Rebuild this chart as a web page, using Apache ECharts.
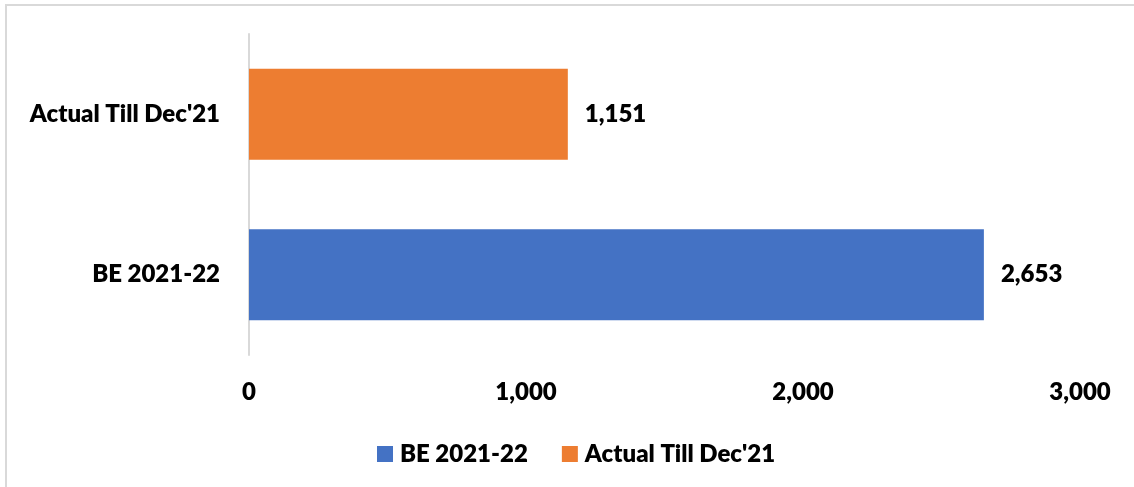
<!DOCTYPE html>
<html>
<head>
<meta charset="utf-8">
<script src="https://cdn.jsdelivr.net/npm/echarts@6/dist/echarts.min.js"></script>
<style>
html,body{margin:0;padding:0;background:#fff;}
#frame{position:absolute;left:5px;top:4px;width:1129px;height:483px;border-top:2px solid #d9d9d9;border-left:2px solid #d9d9d9;box-sizing:border-box;}
#chart{position:absolute;left:0;top:0;width:1134px;height:487px;}
</style>
</head>
<body>
<div id="frame"></div>
<div id="chart"></div>
<script>
var categories = ["BE 2021-22", "Actual Till Dec'21"];
var seriesNames = ["BE 2021-22", "Actual Till Dec'21"];
var beValues = [2653, null];
var actualValues = [null, 1151];
var xTicks = [0, 1000, 2000, 3000];

var font = "Lato, 'Open Sans', sans-serif";
var fs = 24;
var fw = 800;
function fmt(v){ return Number(v).toLocaleString('en-US'); }

var chart = echarts.init(document.getElementById('chart'), null, {renderer:'canvas'});
chart.setOption({
  backgroundColor: 'transparent',
  animation: false,
  grid: {left: 249, right: 54, top: 34, bottom: 132, containLabel: false},
  xAxis: {
    type: 'value', min: xTicks[0], max: xTicks[xTicks.length-1], interval: 1000,
    axisLine: {show: false}, axisTick: {show: false}, splitLine: {show: false},
    axisLabel: {formatter: fmt, color: '#000', fontFamily: font, fontWeight: fw, fontSize: fs, margin: 25}
  },
  yAxis: {
    type: 'category', data: categories,
    axisLine: {show: true, lineStyle: {color: '#d9d9d9', width: 2}},
    axisTick: {show: false},
    axisLabel: {color: '#000', fontFamily: font, fontWeight: fw, fontSize: fs, margin: 29}
  },
  legend: {
    data: seriesNames, top: 437, left: 372, itemWidth: 16, itemHeight: 16, itemGap: 34,
    icon: 'rect',
    textStyle: {color: '#000', fontFamily: font, fontWeight: fw, fontSize: fs, padding: [0,0,0,2]}
  },
  series: [
    {name: seriesNames[0], type: 'bar', stack: 't', data: beValues, barWidth: 91,
     itemStyle: {color: '#4472C4'},
     label: {show: true, position: 'right', distance: 17, formatter: function(p){return fmt(p.value);},
             color: '#000', fontFamily: font, fontWeight: fw, fontSize: fs}},
    {name: seriesNames[1], type: 'bar', stack: 't', data: actualValues, barWidth: 91,
     itemStyle: {color: '#ED7D31'},
     label: {show: true, position: 'right', distance: 17, formatter: function(p){return fmt(p.value);},
             color: '#000', fontFamily: font, fontWeight: fw, fontSize: fs}}
  ]
});
</script>
</body>
</html>
